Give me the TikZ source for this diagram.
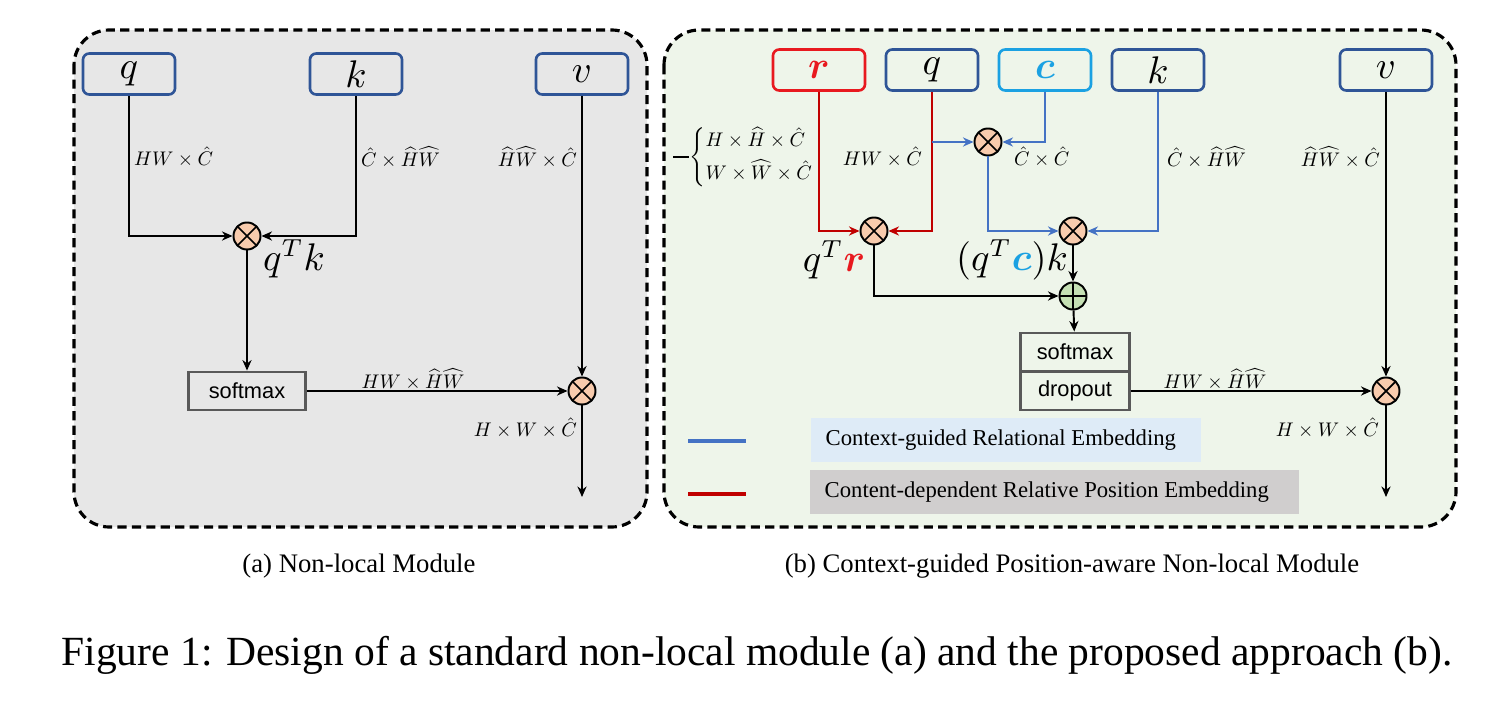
\documentclass[tikz,border=0pt]{standalone}
\usepackage{amsmath,amssymb,bm}
\usepackage{graphicx}
\usepackage{fontspec}
\setmainfont{Liberation Serif}
\setsansfont{Liberation Sans}
\usepackage{tikz}
\usetikzlibrary{arrows.meta,calc,positioning}
\definecolor{boxblue}{HTML}{2F5597}
\definecolor{linkblue}{HTML}{4472C4}
\definecolor{posred}{HTML}{C00000}
\definecolor{rred}{HTML}{E8191F}
\definecolor{ctxcyan}{HTML}{1BA1E2}
\definecolor{mulfill}{HTML}{F8CBAD}
\definecolor{addfill}{HTML}{C5E0B4}
\definecolor{panelgray}{HTML}{E7E7E7}
\definecolor{panelgreen}{HTML}{EEF5EA}
\definecolor{legblue}{HTML}{DEEBF7}
\definecolor{leggray}{HTML}{D0CECE}
\definecolor{opgray}{HTML}{595959}
\newcommand{\dimlbl}[1]{\scalebox{0.56}{$#1$}}

\begin{document}
\begin{tikzpicture}[x=0.01cm, y=-0.01cm,
    inbox/.style={draw=boxblue, rounded corners=1.8pt, line width=0.75pt, minimum width=0.92cm,
      minimum height=0.41cm, inner sep=0pt, font=\fontsize{10.5}{12}\selectfont},
    opbox/.style={draw=opgray, line width=0.8pt, minimum width=1.09cm, minimum height=0.38cm,
      inner sep=0pt, font=\sffamily\fontsize{6.2}{7.4}\selectfont},
    mul/.style={circle, draw=black, fill=mulfill, line width=0.55pt, minimum size=0.27cm, inner sep=0pt,
      path picture={\draw[line width=0.5pt] (path picture bounding box.north west) -- (path picture bounding box.south east)
        (path picture bounding box.north east) -- (path picture bounding box.south west);}},
    add/.style={circle, draw=black, fill=addfill, line width=0.55pt, minimum size=0.27cm, inner sep=0pt,
      path picture={\draw[line width=0.5pt] (path picture bounding box.north) -- (path picture bounding box.south)
        (path picture bounding box.east) -- (path picture bounding box.west);}},
    dim/.style={inner sep=1pt},
    big/.style={font=\fontsize{10.5}{12}\selectfont, inner sep=0pt},
    legend/.style={anchor=west, inner xsep=0.15cm, minimum height=0.4cm,
      font=\fontsize{6.45}{8}\selectfont},
    panel/.style={dashed, dash pattern=on 2.6pt off 1.5pt, line width=0.9pt, rounded corners=10pt},
    arr/.style={-{Stealth[length=3pt,width=2.6pt]}, line width=0.55pt},
    barr/.style={arr, draw=linkblue, line width=0.7pt},
    rarr/.style={arr, draw=posred, line width=0.7pt}]
\useasboundingbox (0,0) rectangle (1508,709);
\draw[panel, fill=panelgray] (74,30) rectangle (647,527);
\draw[panel, fill=panelgreen] (664,30) rectangle (1456,527);

\foreach \n/\x/\t in {qa/129/q, ka/356/k, va/582/v} {
  \node[inbox] (\n) at (\x,74) {$\t$};
}
\node[mul] (ma) at (247,236) {};
\node[opbox, minimum width=1.17cm] (sma) at (247,391) {softmax};
\node[mul] (mva) at (582,391) {};
\coordinate (outa) at (582,497);
\draw[arr] (qa) |- (ma);
\draw[arr] (ka) |- (ma);
\draw[arr] (ma) -- (sma);
\draw[arr] (sma) -- (mva);
\draw[arr] (va) -- (mva);
\draw[arr] (mva) -- (outa);
\node[dim, anchor=west] (la1) at (130,157) {\dimlbl{HW\times\hat{C}}};
\node[dim, anchor=west] (la2) at (357,157) {\dimlbl{\hat{C}\times\widehat{H}\widehat{W}}};
\node[dim, anchor=east] (la3) at (581,157) {\dimlbl{\widehat{H}\widehat{W}\times\hat{C}}};
\node[big] (qk) at (294,259) {$q^Tk$};
\node[dim] (la4) at (413,379) {\dimlbl{HW\times\widehat{H}\widehat{W}}};
\node[dim, anchor=east] (la5) at (581,428) {\dimlbl{H\times W\times\hat{C}}};

\node[inbox, draw=rred, text=rred] (rb) at (819,70) {$\bm{r}$};
\node[inbox, draw=ctxcyan, text=ctxcyan] (cb) at (1045,70) {$\bm{c}$};
\foreach \n/\x/\t in {qb/932/q, kb/1158/k, vb/1386/v} {
  \node[inbox] (\n) at (\x,70) {$\t$};
}
\node[mul] (mc) at (988,142) {};
\node[mul] (mr) at (874,231) {};
\node[mul] (mk) at (1073,231) {};
\node[add] (pl) at (1073,296) {};
\node[opbox] (smb) at (1075,352) {softmax};
\node[opbox] (dpb) at (1075,391) {dropout};
\node[mul] (mvb) at (1386,391) {};
\coordinate (outb) at (1386,497);
\coordinate (qsplit) at (qb.south |- mc);
\draw[rarr] (rb) |- (mr);
\draw[rarr] (qb) |- (mr);
\draw[barr] (qsplit) -- (mc);
\draw[barr] (cb) |- (mc);
\draw[barr] (mc) |- (mk);
\draw[barr] (kb) |- (mk);
\draw[arr] (mk) -- (pl);
\draw[arr] (mr) |- (pl);
\draw[arr] (pl) -- (smb);
\draw[arr] (dpb) -- (mvb);
\draw[arr] (vb) -- (mvb);
\draw[arr] (mvb) -- (outb);

\node[inner sep=0pt, anchor=west] (brc) at (689,157)
  {\dimlbl{\left\{\begin{array}{@{}l@{}} H\times\widehat{H}\times\hat{C}\\[3pt] W\times\widehat{W}\times\hat{C}\end{array}\right.}};
\coordinate (bstub) at (673,157);
\draw[line width=0.45pt] (bstub) -- (brc.west);
\node[dim, anchor=east] (lb1) at (926,157) {\dimlbl{HW\times\hat{C}}};
\node[dim, anchor=west] (lb2) at (1010,157) {\dimlbl{\hat{C}\times\hat{C}}};
\node[dim, anchor=west] (lb3) at (1163,157) {\dimlbl{\hat{C}\times\widehat{H}\widehat{W}}};
\node[dim, anchor=east] (lb4) at (1384,157) {\dimlbl{\widehat{H}\widehat{W}\times\hat{C}}};
\node[big] (qr) at (834,260) {$q^T\textcolor{rred}{\bm{r}}$};
\node[big] (qck) at (1012,260) {$(q^T\textcolor{ctxcyan}{\bm{c}})k$};
\node[dim] (lb5) at (1215,379) {\dimlbl{HW\times\widehat{H}\widehat{W}}};
\node[dim, anchor=east] (lb6) at (1383,428) {\dimlbl{H\times W\times\hat{C}}};

\coordinate (kb1) at (688,441);
\coordinate (kb2) at (746,441);
\coordinate (kr1) at (688,494);
\coordinate (kr2) at (746,494);
\draw[linkblue, line width=1pt] (kb1) -- (kb2);
\draw[posred, line width=1pt] (kr1) -- (kr2);
\node[legend, fill=legblue] (legb) at (810,440) {\makebox[3.6cm][l]{Context-guided Relational Embedding}};
\node[legend, fill=leggray] (legr) at (809,492) {\makebox[4.59cm][l]{Content-dependent Relative Position Embedding}};

\node[font=\fontsize{7.6}{9}\selectfont] (capa) at (359,566) {(a) Non-local Module};
\node[font=\fontsize{7.6}{9}\selectfont] (capb) at (1072,566) {(b) Context-guided Position-aware Non-local Module};
\node[font=\fontsize{11.8}{14}\selectfont] (fig) at (757,655) {Figure 1: Design of a standard non-local module (a) and the proposed approach (b).};
\end{tikzpicture}
\end{document}
